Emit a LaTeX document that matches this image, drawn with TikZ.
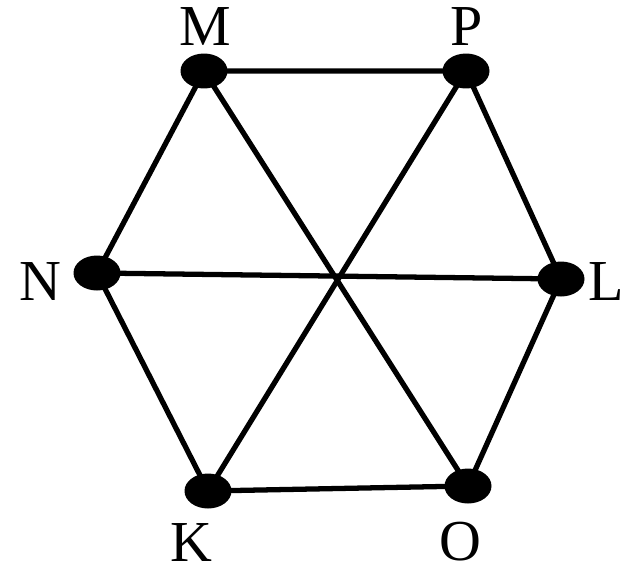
\documentclass[tikz,border=0pt]{standalone}
\usepackage{fontspec}
\setmainfont{Liberation Serif}
\usetikzlibrary{shapes.geometric}

\tikzset{
  dot/.style={ellipse, fill=black, minimum width=0.94cm, minimum height=0.7cm, inner sep=0pt},
  edge/.style={line width=3pt},
  lbl/.style={font=\fontsize{33}{40}\selectfont, inner sep=0pt}
}

\begin{document}
\begin{tikzpicture}[x=0.02cm, y=-0.02cm]
    \useasboundingbox (0,0) rectangle (625,575);
    % vertices of the hexagon
    \coordinate (M) at (204,71);
    \coordinate (P) at (466,71);
    \coordinate (L) at (561,279);
    \coordinate (O) at (468,486);
    \coordinate (K) at (208,491);
    \coordinate (N) at (97,273);
    % sides and diagonals
    \draw[edge] (M) -- (P) -- (L) -- (O) -- (K) -- (N) -- cycle;
    \draw[edge] (M) -- (O);
    \draw[edge] (P) -- (K);
    \draw[edge] (N) -- (L);
    % dots
    \node[dot] (dM) at (M) {};
    \node[dot] (dP) at (P) {};
    \node[dot] (dL) at (L) {};
    \node[dot] (dO) at (O) {};
    \node[dot] (dK) at (K) {};
    \node[dot] (dN) at (N) {};
    % labels
    \node[lbl] (lM) at (205,27) {M};
    \node[lbl] (lP) at (467,27) {P};
    \node[lbl] (lL) at (606,282) {L};
    \node[lbl] (lO) at (460,542) {O};
    \node[lbl] (lK) at (191,543) {K};
    \node[lbl] (lN) at (40,282) {N};
\end{tikzpicture}
\end{document}
